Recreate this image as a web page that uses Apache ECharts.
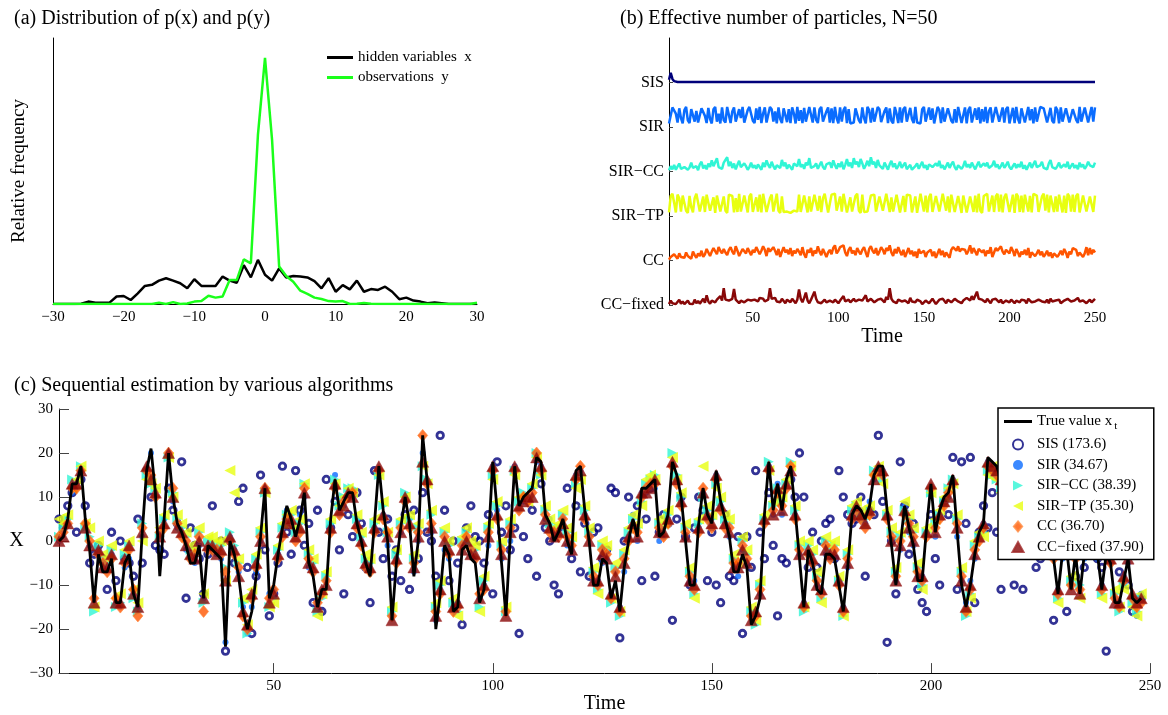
<!DOCTYPE html>
<html><head><meta charset="utf-8">
<script src="https://cdn.jsdelivr.net/npm/echarts@6/dist/echarts.min.js"></script>
<style>html,body{margin:0;padding:0;background:#fff}#c{width:1168px;height:715px}</style>
</head><body><div id="c"></div>
<script>
// ---------- Panel (a): histogram of x and y ----------
const histBins = [-30,-29,-28,-27,-26,-25,-24,-23,-22,-21,-20,-19,-18,-17,-16,-15,-14,-13,-12,-11,-10,-9,-8,-7,-6,-5,-4,-3,-2,-1,0,1,2,3,4,5,6,7,8,9,10,11,12,13,14,15,16,17,18,19,20,21,22,23,24,25,26,27,28,29,30];
const histHidden = [0,0,0,0,0.1,0.9,0.5,0.5,0.5,2.8,3.0,1.5,4.0,6.8,7.2,8.8,9.7,8.8,7.8,5.9,9.3,6.8,6.8,6.8,10.3,8.8,8.0,14.6,10.0,16.6,11.0,8.8,13.4,10.0,10.5,10.3,10.0,8.6,5.9,9.7,4.6,7.1,5.5,8.8,4.6,5.6,5.3,6.5,4.6,1.8,2.4,1.3,0.9,0.3,0.6,0.3,0,0,0,0,0];
const histObs = [0,0,0,0,0,0,0,0,0,0,0,0,0,0,0,0.5,0,0.7,0,0.2,0.9,1.1,3.1,2.4,2.8,9.0,9.0,16.8,15.3,63.6,92.5,61.7,14.1,10.5,8.4,5.0,3.8,2.4,1.9,1.1,0.9,1.1,0,0.1,0.4,0.1,0,0,0,0,0,0,0,0,0,0,0,0,0,0,0.5];
const histTicks = [-30,-20,-10,0,10,20,30];

// ---------- Panel (b): effective number of particles (N=50) ----------
const essNames = ['SIS','SIR','SIR\u2212CC','SIR\u2212TP','CC','CC\u2212fixed'];
const essTicks = [50,100,150,200,250];
const essSIS = [
6,22,8,3,2,1,1,1,1,1,1,1,1,1,1,1,1,1,1,1,1,1,1,1,1,
1,1,1,1,1,1,1,1,1,1,1,1,1,1,1,1,1,1,1,1,1,1,1,1,1,
1,1,1,1,1,1,1,1,1,1,1,1,1,1,1,1,1,1,1,1,1,1,1,1,1,
1,1,1,1,1,1,1,1,1,1,1,1,1,1,1,1,1,1,1,1,1,1,1,1,1,
1,1,1,1,1,1,1,1,1,1,1,1,1,1,1,1,1,1,1,1,1,1,1,1,1,
1,1,1,1,1,1,1,1,1,1,1,1,1,1,1,1,1,1,1,1,1,1,1,1,1,
1,1,1,1,1,1,1,1,1,1,1,1,1,1,1,1,1,1,1,1,1,1,1,1,1,
1,1,1,1,1,1,1,1,1,1,1,1,1,1,1,1,1,1,1,1,1,1,1,1,1,
1,1,1,1,1,1,1,1,1,1,1,1,1,1,1,1,1,1,1,1,1,1,1,1,1,
1,1,1,1,1,1,1,1,1,1,1,1,1,1,1,1,1,1,1,1,1,1,1,1,1];
const essSIR = [
8,12,44,45,30,10,42,20,8,38,45,15,9,40,44,12,36,10,8,42,45,25,9,43,18,
8,40,45,12,30,8,44,15,10,45,42,9,35,44,12,8,40,20,45,10,8,38,45,44,14,
9,42,16,45,9,30,44,10,8,45,40,12,35,8,44,18,9,42,45,11,40,9,44,30,8,
45,14,38,9,43,12,8,45,41,10,44,16,9,40,45,12,8,35,44,10,42,9,45,20,8,
44,12,38,45,9,40,8,8,10,42,45,15,9,44,20,8,45,38,10,43,12,9,45,40,11,
8,36,44,9,42,14,8,45,30,9,44,10,40,45,12,8,43,18,9,45,10,8,8,40,45,
12,9,44,16,42,8,10,45,38,9,44,12,8,42,45,14,9,40,10,45,43,9,12,44,8,
38,45,10,9,42,16,44,8,40,12,45,9,36,44,10,8,45,42,12,9,44,10,40,45,8,
12,43,9,45,18,8,42,44,10,9,45,15,40,8,44,12,9,45,45,42,44,10,8,43,14,
9,45,38,8,44,12,9,42,45,10,8,40,44,16,9,45,12,8,44,42,10,9,45,12,44];
const essSIRCC = [
3,12,5,15,4,8,18,6,3,10,14,4,9,20,8,5,12,3,16,22,7,14,5,18,10,
25,12,8,30,10,14,6,20,16,32,12,22,8,18,5,15,24,10,6,18,12,4,10,20,8,
14,6,16,12,4,20,10,25,15,8,22,12,5,14,18,8,26,12,20,6,15,10,4,18,22,
12,28,10,16,6,20,14,30,8,4,12,18,6,14,22,10,5,16,12,20,8,25,14,6,18,
10,22,5,15,28,12,20,8,30,16,22,10,28,18,6,14,24,12,32,16,22,8,26,14,18,
6,20,12,4,16,24,10,18,6,12,22,8,14,20,5,10,15,4,8,12,18,6,10,22,8,
14,4,16,20,10,6,18,12,24,8,14,5,12,20,8,16,22,10,4,14,18,6,12,24,10,
16,8,20,12,5,14,22,10,6,18,12,20,8,4,14,24,10,16,6,12,20,8,14,22,10,
5,12,18,8,16,10,22,6,14,4,12,20,8,16,24,10,6,14,22,8,12,5,18,26,10,
14,6,12,20,8,4,16,10,22,6,12,18,8,14,5,20,10,16,6,12,22,14,18,10,20];
const essSIRTP = [
8,45,50,30,8,48,40,10,46,50,12,7,45,20,8,40,50,48,10,7,44,9,48,50,12,
8,42,7,46,50,10,8,44,12,7,48,50,45,8,40,9,50,10,7,46,48,8,44,50,9,
7,42,10,48,8,50,46,9,7,40,48,10,8,50,12,7,44,9,8,10,8,7,9,12,8,
10,48,9,8,46,50,8,44,10,7,48,50,12,45,9,40,50,48,8,10,48,46,50,12,8,
44,10,50,48,8,9,42,10,8,45,50,12,7,48,9,6,10,8,46,50,48,10,7,44,48,
12,8,50,46,9,42,10,7,48,50,8,10,45,9,48,50,46,8,10,44,7,9,50,48,10,
46,8,42,50,9,7,45,48,10,8,50,46,12,44,8,48,50,9,10,45,48,7,46,50,8,
10,44,48,9,46,8,50,12,7,45,48,50,10,8,46,9,44,50,10,48,8,42,50,46,9,
10,48,7,50,44,9,46,8,48,50,10,45,8,50,48,46,9,7,44,50,12,48,8,46,50,
9,44,10,48,50,8,46,7,50,44,10,48,9,45,50,8,12,46,50,10,7,44,48,9,46];
const essCC = [
2,8,5,14,10,4,16,8,12,6,18,10,14,4,20,12,6,16,10,22,8,14,26,18,10,
20,28,24,14,30,22,16,26,18,12,24,30,20,14,32,22,10,18,26,30,16,28,20,12,24,
18,30,26,14,22,32,24,10,28,20,16,30,22,12,26,8,20,30,18,24,14,28,10,22,16,
26,20,12,30,14,6,24,18,28,10,22,16,32,20,12,26,30,8,18,24,14,28,34,16,22,
30,26,34,18,10,24,30,16,22,12,28,20,14,24,30,18,8,26,32,22,16,28,12,20,30,
24,14,28,22,34,18,10,26,16,30,20,12,24,8,18,28,14,22,10,20,6,26,16,12,22,
8,18,14,24,10,20,6,16,26,12,22,8,18,14,6,24,30,28,22,32,20,26,30,24,14,
22,34,16,28,20,12,26,30,18,24,10,22,16,30,8,18,28,22,26,32,20,14,24,28,16,
30,22,10,26,18,8,20,14,24,12,28,6,18,22,10,16,24,12,20,8,14,22,10,18,6,
16,20,8,14,22,12,26,18,6,20,14,28,32,24,10,18,22,8,16,30,12,28,14,24,18];
const essCCfixed = [
2,10,4,8,2,6,12,3,8,2,5,10,3,7,2,12,4,9,3,6,14,5,22,8,3,
10,14,6,12,8,20,10,38,12,16,10,6,14,36,12,8,4,10,14,6,2,12,16,10,14,
12,10,8,16,12,14,8,4,12,38,14,10,16,8,12,6,14,10,4,12,8,6,14,10,4,
12,35,14,6,16,28,10,4,12,8,30,14,6,10,4,8,12,6,2,10,14,6,12,8,4,
10,14,20,8,4,12,6,10,14,8,4,12,16,10,6,22,8,12,14,10,6,4,12,8,14,
10,6,18,12,38,14,8,10,4,12,14,8,6,10,12,4,16,8,10,6,12,14,8,2,6,
10,12,4,8,14,10,2,6,12,8,14,10,4,12,8,6,10,14,12,8,6,4,10,12,16,
14,10,20,12,8,30,14,10,12,8,6,14,10,4,12,8,14,10,6,12,4,8,10,14,6,
12,8,4,10,14,6,12,8,10,4,14,12,6,10,8,4,12,16,8,10,6,12,4,14,8,
6,10,14,12,4,8,10,6,14,12,8,4,10,12,16,8,6,10,14,4,8,12,6,10,14];

// ---------- Panel (c): sequential estimation ----------
const estTicks = [50,100,150,200,250];
const trueX = [
0,1,5,13,13,17,5,-2,-14,-3, -7,-7,-4,-14,-14,-5,-3,-12,-15,2,
16,21,11,-8,5,20,10,4,2,-1, -5,-5,-1,-13,-1,-2,-3,-4,-24,0,
-3,-8,-16,-20,-16,-8,1,12,-13,-10, -3,3,8,5,1,5,11,-5,-8,-15,
-11,-11,5,14,7,9,11,11,4,0, -5,-8,4,17,7,0,-18,-5,3,10,
4,-8,0,24,14,3,-20,-12,-1,-3, -16,-15,-2,-1,-4,-5,-14,-11,0,18,
7,-5,-17,1,17,8,10,11,12,19, 18,6,4,0,2,5,0,-3,16,17,
7,0,-10,-10,-4,-5,-13,-9,-16,-6, 0,5,1,12,12,13,14,1,2,6,
18,15,10,0,-10,-10,4,12,6,4, 16,9,5,1,-7,-7,-3,-6,-19,-17,
-13,6,18,7,13,7,14,17,7,-4, -15,-2,-5,-11,-12,-3,-3,-4,-10,-16,
-6,6,8,7,5,8,15,17,17,7, -1,-10,-1,8,3,-1,-9,-9,3,13,
2,7,10,11,15,2,-10,-15,-10,-3, 2,4,19,18,17,14,6,1,0,3,
2,-1,1,4,2,0,-1,-4,-12,-3, -2,-11,-3,-12,-3,-2,-1,-3,-11,-3,
-5,-14,-14,-9,-4,-13,-14,-13];
const estSIS = [
5,3,8,11,2,14,8,-5,-3,-1, -4,-11,2,-9,0,-4,-5,-8,5,-5,
16,10,-1,-2,-3,12,7,4,18,-13, 3,-1,-4,-12,-3,8,-2,0,-25,0,
-5,9,12,-6,-21,-8,15,-2,-17,-12, -5,17,2,-3,16,7,-1,4,-14,7,
-16,14,3,9,-2,-12,6,1,11,4, -6,-14,16,2,-4,5,-8,-2,-9,6,
-11,7,-4,11,2,0,-8,24,7,-9, 0,-5,-19,3,8,1,0,-5,6,-12,
18,2,8,-2,3,-21,1,-4,7,-8, 13,3,0,-10,-12,2,12,-4,8,-7,
4,-8,2,3,-4,-2,12,11,-22,0, 10,3,8,-9,5,12,-8,2,6,4,
-18,5,10,1,-10,3,10,7,-9,2, -10,-14,6,-8,-9,1,-21,1,-6,16,
2,-4,11,-1,-17,-4,-5,14,10,20, 10,-6,2,-6,0,4,5,-4,16,10,
6,4,5,10,-8,7,6,24,9,-23, 0,-12,18,8,-3,4,-11,-14,-16,6,
-4,-10,9,6,19,-11,18,4,19,-14, 2,8,3,11,2,-11,6,10,-10,8,
-11,4,2,-6,-4,7,1,-18,5,3, -16,2,-8,1,-6,0,9,-4,-6,-25,
3,0,-7,6,-10,-16,2,-13];
const estSIR = [
0,2,5,11,13,16,4,-1,-13,-2, -5,-6,-3,-14,-15,-6,-4,-12,-15,1,
16,20,10,-2,5,20,9,3,2,-2, -4,-5,-1,-13,-2,-2,-3,-4,-23,1,
-2,-7,-15,-21,-15,-7,0,12,-12,-11, -3,3,7,4,2,6,10,-6,-7,-14,
-12,-9,4,15,6,8,10,10,5,0, -5,-7,3,16,6,-1,-17,-4,2,10,
5,-7,0,20,13,2,-18,-11,-2,-4, -15,-14,-1,0,-3,-4,-13,-10,-1,17,
7,-4,-16,0,17,7,9,10,12,18, 17,5,5,1,3,5,-1,-2,15,16,
6,1,-9,-9,-5,-4,-12,-7,-15,-7, 1,6,0,11,11,12,12,0,1,5,
17,14,9,1,-9,-9,3,11,5,3, 15,8,4,1,-6,-8,-2,-5,-17,-16,
-12,5,17,6,13,6,13,16,6,-3, -14,-3,-5,-10,-11,-3,-4,-4,-9,-15,
-6,5,7,7,4,9,14,16,16,6, 0,-9,-2,8,2,-1,-8,-8,2,12,
1,6,9,10,14,1,-9,-14,-9,-4, 1,4,18,17,16,13,6,0,-1,2,
1,-1,0,3,1,-1,-2,-4,-11,-4, -3,-10,-2,-11,-4,-3,-2,-4,-10,-4,
-5,-13,-14,-8,-5,-13,-17,-12];
const estSIRCC = [
1,3,5,14,12,17,3,1,-16,-1, -4,-5,-2,-15,-14,-3,-1,-13,-16,4,
15,13,12,1,5,19,11,5,3,1, -2,-3,2,-14,0,0,-1,-1,-6,2,
-1,-5,-14,-21,-13,-4,2,11,-15,-13, -2,3,6,6,2,4,13,-3,-5,-16,
-13,-8,4,14,8,10,12,12,5,1, -4,-5,4,15,8,2,-16,-3,4,11,
5,-4,3,17,14,6,-15,-10,2,-1, -14,-16,0,2,-1,-2,-15,-9,3,15,
8,-1,-16,4,16,9,11,10,12,20, 15,7,4,3,3,6,2,0,13,15,
7,2,-7,-11,-1,-2,-14,-6,-17,-3, 2,5,3,9,13,14,15,4,3,6,
20,15,10,3,-7,-12,4,10,7,5, 13,9,5,4,-4,-6,0,-3,-16,-19,
-10,5,18,8,12,9,13,18,7,-1, -16,-1,-3,-8,-13,0,-2,-1,-9,-17,
-3,7,8,6,5,7,16,15,14,6, 2,-7,1,7,5,2,-6,-10,2,11,
4,6,9,12,14,5,-7,-17,-12,-1, 1,2,16,15,14,12,5,3,2,3,
4,2,1,2,0,0,-1,-3,-13,0, -2,-9,-2,-10,-2,0,1,-2,-12,-1,
-4,-12,-16,-10,-2,-14,-16,-13];
const estSIRTP = [
5,4,6,12,14,17,4,3,-15,0, -3,-4,-1,-13,-12,-2,0,-11,-14,0,
14,13,12,3,6,19,10,6,4,2, -1,-2,3,-12,1,1,0,0,-9,16,
11,-4,-13,-19,-11,-3,3,11,-15,-14, -1,4,6,7,3,5,13,-2,-4,-17,
-12,-7,5,13,8,10,12,11,6,2, -3,-4,5,15,9,2,-15,-2,5,10,
6,-3,4,17,13,7,-14,-9,3,0, -13,-17,1,3,0,-1,-16,-8,4,14,
9,0,-15,5,15,10,10,9,13,19, 15,8,5,3,4,7,3,1,12,14,
8,3,-6,-12,0,-1,-13,-5,-16,-2, 3,6,4,8,14,15,14,5,4,7,
19,14,11,4,-6,-13,5,17,8,6, 12,10,6,5,-3,-5,1,-2,-15,-18,
-9,6,16,9,11,10,14,17,8,0, -15,0,-2,-7,-14,1,-1,0,-8,-17,
-2,8,9,7,6,8,15,17,13,7, 3,-6,2,9,6,3,-5,-11,3,11,
5,7,10,12,13,6,-6,-16,-13,0, 2,1,15,17,14,11,6,4,3,4,
5,3,2,1,-1,1,0,-2,-14,1, -1,-8,-1,-13,-1,1,2,-1,-13,0,
-3,-11,-15,-11,-1,-15,-17,-12];
const estCC = [
1,2,4,12,12,16,4,0,-13,-3, -5,-7,-4,-13,-15,-5,-2,-11,-17,3,
16,15,10,2,3,20,12,4,1,0, -4,-3,1,-16,-2,-2,-2,-3,-7,0,
-3,-6,-17,-20,-13,-6,1,12,-13,-11, -4,1,5,4,0,2,12,-4,-7,-14,
-12,-9,2,12,6,9,10,11,3,-1, -6,-7,2,16,5,2,-17,-5,3,9,
3,-5,2,24,13,4,-16,-12,1,-3, -16,-15,-1,1,-2,-4,-12,-11,2,16,
5,-2,-16,3,16,7,10,9,11,20, 16,6,2,2,1,5,1,-1,14,17,
5,1,-8,-10,-2,-3,-13,-7,-16,-4, 0,3,2,10,12,13,13,3,1,4,
17,13,8,2,-8,-11,2,12,5,3, 14,7,3,3,-5,-5,-1,-4,-17,-17,
-11,4,16,7,11,8,12,17,5,-2, -15,-3,-5,-9,-12,-1,-4,-2,-10,-16,
-4,5,7,5,3,6,15,16,15,5, 1,-8,0,6,4,1,-7,-9,1,12,
3,5,8,11,13,4,-8,-16,-11,-2, 0,3,17,16,15,13,4,2,1,2,
3,1,0,3,1,-1,-2,-4,-12,-1, -3,-10,-4,-11,-3,-1,0,-3,-11,-2,
-5,-13,-15,-9,-3,-13,-15,-14];
const estCCfixed = [
0,1,4,13,13,16,3,-1,-14,-2, -6,-6,-3,-14,-14,-4,-1,-12,-15,2,
17,14,11,1,4,20,10,3,2,-1, -3,-4,0,-13,-1,-1,-3,-2,-9,1,
-2,-8,-16,-19,-12,-5,0,12,-14,-12, -3,2,4,5,1,3,11,-5,-6,-15,
-11,-10,3,13,7,8,11,10,4,0, -5,-6,3,17,6,1,-18,-4,2,10,
4,-6,1,18,14,3,-17,-11,0,-2, -15,-14,-2,0,-3,-3,-13,-10,1,17,
6,-3,-17,2,17,8,9,10,10,19, 17,5,3,1,2,4,0,-2,15,16,
6,0,-9,-9,-3,-4,-12,-8,-15,-5, 1,4,1,11,11,12,14,2,2,5,
18,14,9,1,-9,-10,3,11,6,4, 15,8,4,2,-6,-6,-2,-5,-18,-16,
-12,5,17,6,12,7,13,16,6,-3, -14,-2,-4,-10,-11,-2,-3,-3,-9,-15,
-5,6,8,6,4,7,14,17,16,6, 0,-9,-1,7,3,0,-8,-8,2,13,
2,6,9,10,14,3,-9,-15,-10,-3, 1,4,18,17,16,14,5,1,0,3,
2,0,1,4,2,0,-1,-3,-11,-2, -2,-11,-3,-12,-2,-2,-1,-2,-10,-3,
-4,-14,-14,-8,-4,-12,-14,-13];

// ---------- build chart ----------
const F = '"Liberation Serif","Times New Roman",serif';
const minus = v => String(v).replace('-', '\u2212');
const pairs = (arr, x0) => arr.map((v, i) => [x0 !== undefined ? x0[i] : i + 1, v]);
const band = (arr, off) => arr.map((v, i) => [i + 1, off + v / 100]);

const cSIS = '#00007a', cSIR = '#0a6cff', cSIRCC = '#30f5d5', cSIRTP = '#e8ff10', cCC = '#ff5500', cCCF = '#880808';
const triR = 'path://M0,0 L10,5 L0,10 Z';
const triL = 'path://M10,0 L0,5 L10,10 Z';
const triU = 'path://M5,0 L10,9 L0,9 Z';
const dia = 'path://M5,0 L10,6 L5,12 L0,6 Z';
const lineIcon = 'path://M0,0 L28,0 L28,3 L0,3 Z';

const lbl = {fontFamily: F, fontSize: 15, color: '#000'};
const chart = echarts.init(document.getElementById('c'));
chart.setOption({
  animation: false,
  backgroundColor: '#fff',
  textStyle: {fontFamily: F, color: '#000'},
  title: [
    {text: '(a) Distribution of p(x) and p(y)', left: 9, top: 4, textStyle: {fontFamily: F, fontSize: 20, fontWeight: 'normal', color: '#000'}},
    {text: '(b) Effective number of particles, N=50', left: 615, top: 4, textStyle: {fontFamily: F, fontSize: 20, fontWeight: 'normal', color: '#000'}},
    {text: '(c) Sequential estimation by various algorithms', left: 9, top: 371, textStyle: {fontFamily: F, fontSize: 20, fontWeight: 'normal', color: '#000'}}
  ],
  legend: [
    {data: ['hidden variables  x', 'observations  y'], left: 322, top: 45, orient: 'vertical', icon: 'rect',
     itemWidth: 26, itemHeight: 3, itemGap: 5, selectedMode: false, textStyle: lbl},
    {data: [{name: 'True value xt', icon: lineIcon}, 'SIS (173.6)', 'SIR (34.67)', 'SIR\u2212CC (38.39)', 'SIR\u2212TP (35.30)',
            {name: 'CC (36.70)', icon: dia}, 'CC\u2212fixed (37.90)'],
     left: 998, top: 408, orient: 'vertical', itemWidth: 28, itemHeight: 10, itemGap: 5.5, selectedMode: false,
     padding: [6, 10, 5, 6], backgroundColor: '#fff', borderColor: '#000', borderWidth: 1.5,
     formatter: n => n === 'True value xt' ? 'True value x{s|t}' : n,
     textStyle: Object.assign({}, lbl, {rich: {s: {fontFamily: F, fontSize: 11, color: '#000', padding: [9, 0, 0, 2]}}})}
  ],
  grid: [
    {left: 53, top: 38, width: 424, height: 266},
    {left: 669, top: 38, width: 426, height: 267},
    {left: 59, top: 409, width: 1091, height: 267}
  ],
  xAxis: [
    {gridIndex: 0, type: 'value', min: -30, max: 30, interval: 10,
     axisLine: {onZero: false, lineStyle: {color: '#000', width: 1}}, axisTick: {show: false}, splitLine: {show: false},
     axisLabel: Object.assign({}, lbl, {margin: 6, formatter: minus})},
    {gridIndex: 1, type: 'value', min: 1, max: 250,
     axisLine: {show: false, onZero: false}, axisTick: {show: false}, splitLine: {show: false},
     axisLabel: Object.assign({}, lbl, {margin: 6, customValues: essTicks}),
     name: 'Time', nameLocation: 'middle', nameGap: 15, nameTextStyle: {fontFamily: F, fontSize: 20, color: '#000'}},
    {gridIndex: 2, type: 'value', min: 1, max: 250,
     axisLine: {onZero: false, lineStyle: {color: '#000', width: 1}}, splitLine: {show: false},
     axisTick: {inside: true, length: 10, lineStyle: {color: '#444'}, customValues: estTicks},
     axisLabel: Object.assign({}, lbl, {margin: 5, customValues: estTicks}),
     name: 'Time', nameLocation: 'middle', nameGap: 17, nameTextStyle: {fontFamily: F, fontSize: 20, color: '#000'}}
  ],
  yAxis: [
    {gridIndex: 0, type: 'value', min: 0, max: 100,
     axisLine: {show: true, onZero: false, lineStyle: {color: '#000', width: 1}}, axisTick: {show: false}, axisLabel: {show: false}, splitLine: {show: false},
     name: 'Relative frequency', nameLocation: 'middle', nameGap: 24, nameTextStyle: {fontFamily: F, fontSize: 19, color: '#000'}},
    {gridIndex: 1, type: 'value', min: 0, max: 6,
     axisLine: {show: true, onZero: false, lineStyle: {color: '#000', width: 1}}, splitLine: {show: false},
     axisTick: {inside: true, length: 4, lineStyle: {color: '#444'}, customValues: [0, 1, 2, 3, 4, 5]},
     axisLabel: Object.assign({}, lbl, {fontSize: 16, margin: 5, customValues: [0, 1, 2, 3, 4, 5], formatter: v => essNames[5 - v]})},
    {gridIndex: 2, type: 'value', min: -30, max: 30, interval: 10,
     axisLine: {show: true, onZero: false, lineStyle: {color: '#000', width: 1}}, splitLine: {show: false},
     axisTick: {inside: true, length: 10, lineStyle: {color: '#444'}},
     axisLabel: Object.assign({}, lbl, {margin: 6, formatter: minus}),
     name: 'X', nameLocation: 'middle', nameGap: 32, nameRotate: 0, nameTextStyle: {fontFamily: F, fontSize: 20, color: '#000'}}
  ],
  series: [
    {name: 'hidden variables  x', type: 'line', xAxisIndex: 0, yAxisIndex: 0, data: pairs(histHidden, histBins), symbol: 'none', color: '#000', lineStyle: {color: '#000', width: 2.5}},
    {name: 'observations  y', type: 'line', xAxisIndex: 0, yAxisIndex: 0, data: pairs(histObs, histBins), symbol: 'none', color: '#1aff1a', lineStyle: {color: '#1aff1a', width: 2.5}},

    {name: 'b-SIS', type: 'line', xAxisIndex: 1, yAxisIndex: 1, data: band(essSIS, 5), symbol: 'none', lineStyle: {color: cSIS, width: 2.5}},
    {name: 'b-SIR', type: 'line', xAxisIndex: 1, yAxisIndex: 1, data: band(essSIR, 4), symbol: 'none', lineStyle: {color: cSIR, width: 2.5}},
    {name: 'b-SIRCC', type: 'line', xAxisIndex: 1, yAxisIndex: 1, data: band(essSIRCC, 3), symbol: 'none', lineStyle: {color: cSIRCC, width: 2.5}},
    {name: 'b-SIRTP', type: 'line', xAxisIndex: 1, yAxisIndex: 1, data: band(essSIRTP, 2), symbol: 'none', lineStyle: {color: cSIRTP, width: 2.5}},
    {name: 'b-CC', type: 'line', xAxisIndex: 1, yAxisIndex: 1, data: band(essCC, 1), symbol: 'none', lineStyle: {color: cCC, width: 2.5}},
    {name: 'b-CCF', type: 'line', xAxisIndex: 1, yAxisIndex: 1, data: band(essCCfixed, 0), symbol: 'none', lineStyle: {color: cCCF, width: 2.5}},

    {name: 'True value xt', type: 'line', xAxisIndex: 2, yAxisIndex: 2, data: pairs(trueX), symbol: 'none', color: '#000', lineStyle: {color: '#000', width: 2.8}},
    {name: 'SIS (173.6)', type: 'scatter', xAxisIndex: 2, yAxisIndex: 2, data: pairs(estSIS), symbol: 'circle', symbolSize: 6.5,
     itemStyle: {color: 'rgba(255,255,255,0)', borderColor: cSIS, borderWidth: 2.8}},
    {name: 'SIR (34.67)', type: 'scatter', xAxisIndex: 2, yAxisIndex: 2, data: pairs(estSIR), symbol: 'circle', symbolSize: 6, itemStyle: {color: cSIR}},
    {name: 'SIR\u2212CC (38.39)', type: 'scatter', xAxisIndex: 2, yAxisIndex: 2, data: pairs(estSIRCC), symbol: triR, symbolSize: [10, 10], itemStyle: {color: cSIRCC}},
    {name: 'SIR\u2212TP (35.30)', type: 'scatter', xAxisIndex: 2, yAxisIndex: 2, data: pairs(estSIRTP), symbol: triL, symbolSize: [11, 11], itemStyle: {color: cSIRTP}},
    {name: 'CC (36.70)', type: 'scatter', xAxisIndex: 2, yAxisIndex: 2, data: pairs(estCC), symbol: dia, symbolSize: [10, 12], itemStyle: {color: cCC, borderColor: '#ff8a40', borderWidth: 0.8}},
    {name: 'CC\u2212fixed (37.90)', type: 'scatter', xAxisIndex: 2, yAxisIndex: 2, data: pairs(estCCfixed), symbol: triU, symbolSize: [12, 11], itemStyle: {color: cCCF, borderColor: '#a02a2a', borderWidth: 0.6}}
  ]
});
</script>
</body></html>
